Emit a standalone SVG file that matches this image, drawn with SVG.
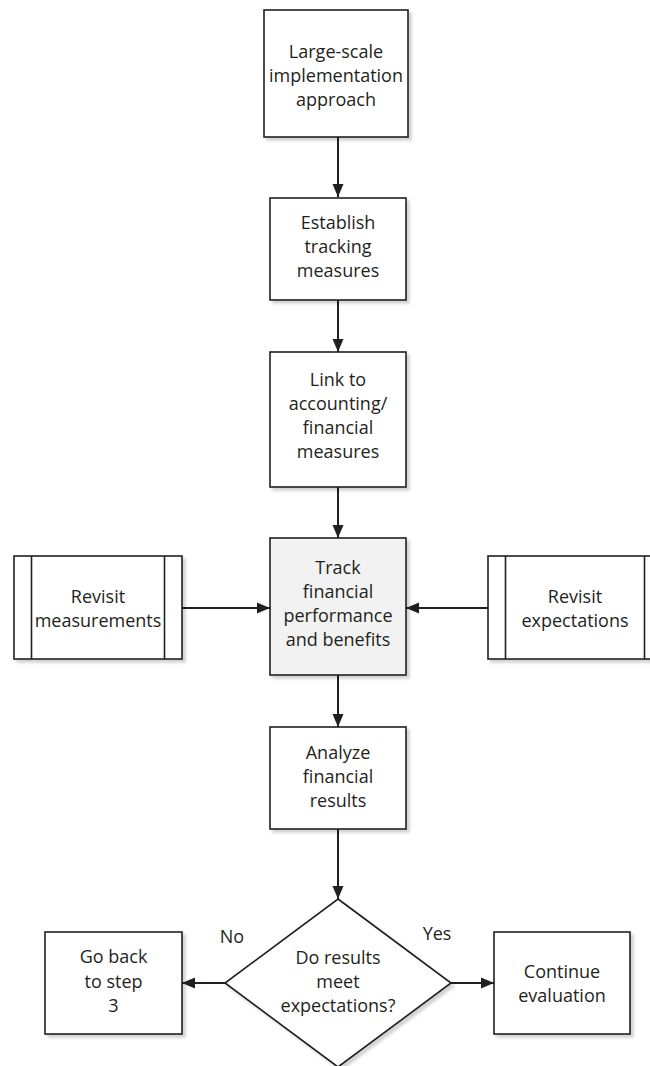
<svg xmlns="http://www.w3.org/2000/svg" width="650" height="1066" viewBox="0 0 650 1066">
  <style>
    .box { fill: #ffffff; stroke: #231f20; stroke-width: 1.6; }
    .hl { fill: #f2f2f2; }
    .band { fill: none; stroke: #231f20; stroke-width: 1.6; }
    .lbl { font-family: "Open Sans", "Liberation Sans", sans-serif; font-size: 18px; fill: #231f20; text-anchor: middle; }
    .edge { fill: none; stroke: #231f20; stroke-width: 2; marker-end: url(#arrow); }
  </style>
  <defs>
    <marker id="arrow" markerUnits="userSpaceOnUse" markerWidth="14" markerHeight="14" viewBox="0 0 14 14" refX="13" refY="7" orient="auto">
      <path d="M0,1.5 L13,7 L0,12.5 Z" fill="#231f20"/>
    </marker>
    <filter id="shadow" x="-10%" y="-10%" width="130%" height="130%">
      <feGaussianBlur in="SourceAlpha" stdDeviation="1.5"/>
      <feOffset dx="2.5" dy="3" result="blur"/>
      <feComponentTransfer><feFuncA type="linear" slope="0.18"/></feComponentTransfer>
      <feMerge><feMergeNode/><feMergeNode in="SourceGraphic"/></feMerge>
    </filter>
  </defs>

  <!-- connectors -->
  <g id="connectors">
    <line class="edge" x1="338" y1="137" x2="338" y2="197"/>
    <line class="edge" x1="338" y1="300" x2="338" y2="352"/>
    <line class="edge" x1="338" y1="487" x2="338" y2="538"/>
    <line class="edge" x1="182" y1="608" x2="270" y2="608"/>
    <line class="edge" x1="488" y1="608" x2="406" y2="608"/>
    <line class="edge" x1="338" y1="675" x2="338" y2="727"/>
    <line class="edge" x1="338" y1="829" x2="338" y2="899"/>
    <line class="edge" x1="225" y1="983" x2="182" y2="983"/>
    <line class="edge" x1="451" y1="983" x2="494" y2="983"/>
    <text class="lbl" x="232" y="943">No</text>
    <text class="lbl" x="437" y="940">Yes</text>
  </g>

  <g id="n-approach">
    <rect class="box" x="264" y="10" width="144" height="127" filter="url(#shadow)"/>
    <text class="lbl" x="336" y="58">Large-scale</text>
    <text class="lbl" x="336" y="82">implementation</text>
    <text class="lbl" x="336" y="106">approach</text>
  </g>

  <g id="n-establish">
    <rect class="box" x="270" y="198" width="136" height="102" filter="url(#shadow)"/>
    <text class="lbl" x="338" y="229">Establish</text>
    <text class="lbl" x="338" y="253">tracking</text>
    <text class="lbl" x="338" y="277">measures</text>
  </g>

  <g id="n-link">
    <rect class="box" x="270" y="352" width="136" height="135" filter="url(#shadow)"/>
    <text class="lbl" x="338" y="386">Link to</text>
    <text class="lbl" x="338" y="410">accounting/</text>
    <text class="lbl" x="338" y="434">financial</text>
    <text class="lbl" x="338" y="458">measures</text>
  </g>

  <g id="n-track">
    <rect class="box hl" x="270" y="538" width="136" height="137" filter="url(#shadow)"/>
    <text class="lbl" x="338" y="574">Track</text>
    <text class="lbl" x="338" y="598">financial</text>
    <text class="lbl" x="338" y="622">performance</text>
    <text class="lbl" x="338" y="646">and benefits</text>
  </g>

  <g id="n-revisit-measurements">
    <rect class="box" x="14" y="556" width="168" height="103" filter="url(#shadow)"/>
    <line class="band" x1="31.5" y1="556" x2="31.5" y2="659"/>
    <line class="band" x1="164.5" y1="556" x2="164.5" y2="659"/>
    <text class="lbl" x="98" y="603">Revisit</text>
    <text class="lbl" x="98" y="627">measurements</text>
  </g>

  <g id="n-revisit-expectations">
    <rect class="box" x="488" y="556" width="174" height="103" filter="url(#shadow)"/>
    <line class="band" x1="505.5" y1="556" x2="505.5" y2="659"/>
    <line class="band" x1="644.5" y1="556" x2="644.5" y2="659"/>
    <text class="lbl" x="575" y="603">Revisit</text>
    <text class="lbl" x="575" y="627">expectations</text>
  </g>

  <g id="n-analyze">
    <rect class="box" x="270" y="727" width="136" height="102" filter="url(#shadow)"/>
    <text class="lbl" x="338" y="759">Analyze</text>
    <text class="lbl" x="338" y="783">financial</text>
    <text class="lbl" x="338" y="807">results</text>
  </g>

  <g id="n-decision">
    <polygon class="box" points="338,899 451,983 338,1067 225,983" filter="url(#shadow)"/>
    <text class="lbl" x="338" y="964">Do results</text>
    <text class="lbl" x="338" y="988">meet</text>
    <text class="lbl" x="338" y="1012">expectations?</text>
  </g>

  <g id="n-goback">
    <rect class="box" x="45" y="932" width="137" height="102" filter="url(#shadow)"/>
    <text class="lbl" x="113.5" y="963">Go back</text>
    <text class="lbl" x="113.5" y="988">to step</text>
    <text class="lbl" x="113.5" y="1012">3</text>
  </g>

  <g id="n-continue">
    <rect class="box" x="494" y="932" width="136" height="102" filter="url(#shadow)"/>
    <text class="lbl" x="562" y="978">Continue</text>
    <text class="lbl" x="562" y="1002">evaluation</text>
  </g>
</svg>
